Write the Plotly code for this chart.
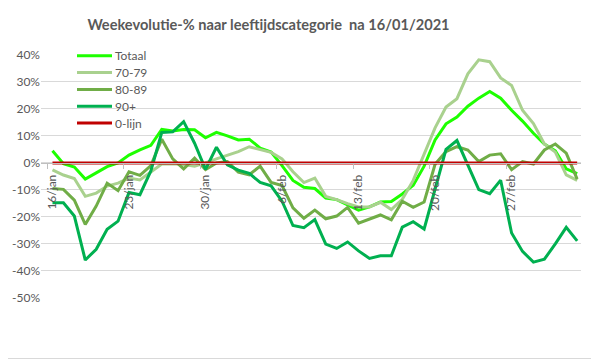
import plotly.graph_objects as go

# ---------------- data ----------------
categories = ([f"{d}/jan" for d in range(16, 32)]
              + [f"{d}/feb" for d in range(1, 29)]
              + [f"{d}/mrt" for d in range(1, 6)])

tick_labels = ["16/jan", "23/jan", "30/jan", "6/feb", "13/feb", "20/feb", "27/feb"]

y_tick_values = [40, 30, 20, 10, 0, -10, -20, -30, -40, -50]
y_tick_labels = ["40%", "30%", "20%", "10%", "0%", "-10%", "-20%", "-30%", "-40%", "-50%"]

totaal = [4.5, -0.3, -1.5, -6.0, -3.7, -1.4, 0.0, 2.9, 4.8, 6.5,
          12.4, 11.8, 12.4, 12.3, 9.3, 11.3, 10.0, 8.5, 8.8, 5.5,
          4.0, -1.0, -6.5, -9.0, -9.5, -13.0, -13.6, -15.4, -17.5, -16.3,
          -14.5, -14.3, -11.5, -8.3, -1.2, 8.5, 14.5, 17.0, 21.0, 24.0,
          26.5, 24.0, 19.5, 15.5, 11.0, 7.0, 4.5, -2.2, -4.0]

leeftijd_70_79 = [-2.6, -4.5, -5.8, -12.4, -11.2, -8.6, -7.5, -5.6, -6.3, -3.2,
                  -0.4, -0.3, -0.6, -1.2, 0.0, 1.5, 2.9, 4.2, 6.0, 5.0,
                  3.9, 1.5, -3.3, -7.3, -5.6, -12.4, -13.6, -15.1, -16.3, -16.3,
                  -14.6, -17.3, -13.5, -6.5, 3.0, 13.0, 20.7, 23.8, 33.0, 38.2,
                  37.5, 31.5, 28.7, 19.5, 14.6, 7.0, 4.0, -4.4, -6.5]

leeftijd_80_89 = [-9.5, -9.8, -13.8, -22.8, -16.0, -7.5, -10.3, -3.3, -4.6, -1.0,
                  8.8, 1.5, -2.2, 1.8, -2.5, 0.0, 0.5, -3.4, -4.4, -1.2,
                  -7.2, -8.4, -16.7, -20.5, -17.5, -20.7, -19.7, -16.5, -22.3, -20.8,
                  -19.3, -21.1, -14.2, -16.5, -14.5, -0.5, 4.2, 6.0, 4.8, 0.5,
                  2.9, 3.4, -2.5, 0.5, -0.4, 4.8, 7.0, 3.6, -6.0]

leeftijd_90_plus = [-14.8, -14.8, -19.7, -36.0, -32.0, -24.6, -21.6, -11.0, -11.8, -3.0,
                    11.3, 11.5, 15.3, 7.3, -2.4, 5.8, -0.7, -2.7, -3.9, -7.2,
                    -8.5, -14.2, -23.2, -24.0, -21.0, -30.1, -31.7, -29.3, -32.6, -35.4,
                    -34.4, -34.4, -23.8, -21.8, -24.5, -9.3, 5.0, 8.3, -1.0, -9.9,
                    -11.4, -6.4, -26.0, -32.8, -36.8, -35.7, -30.0, -23.9, -28.9]

nul_lijn = [0, 0, 0, 0, 0, 0, 0, 0, 0, 0,
            0, 0, 0, 0, 0, 0, 0, 0, 0, 0,
            0, 0, 0, 0, 0, 0, 0, 0, 0, 0,
            0, 0, 0, 0, 0, 0, 0, 0, 0, 0,
            0, 0, 0, 0, 0, 0, 0, 0, 0]

series_names = ["Totaal", "70-79", "80-89", "90+", "0-lijn"]
series_values = [totaal, leeftijd_70_79, leeftijd_80_89, leeftijd_90_plus, nul_lijn]
series_colors = ["#1EFF00", "#A9D18E", "#70AD47", "#00B050", "#C00000"]

# ---------------- layout geometry ----------------
# the page body adds an 8px margin, so the figure is drawn 8px smaller and
# all target pixel positions are shifted by that offset
OFF = 8
W, H = 599 - OFF, 359 - OFF


def px(xp):
    return (xp - OFF) / W


def py(yp):
    return 1 - (yp - OFF) / H


plot_left, plot_right = 41, 581
plot_top, plot_bottom = 55, 297.8
y_min, y_max = -50, 40

x_pos = list(range(len(categories)))
tick_pos = [categories.index(t) for t in tick_labels]
boundary_pos = [p - 0.5 for p in tick_pos]

ydom = [py(plot_bottom), py(plot_top)]
zero_frac = ydom[0] + (0 - y_min) / (y_max - y_min) * (ydom[1] - ydom[0])

FONT = "Lato"
GREY = "#595959"

fig = go.Figure()
for name, vals, col in zip(series_names, series_values, series_colors):
    fig.add_trace(go.Scatter(
        x=x_pos, y=vals, name=name, mode="lines",
        line=dict(color=col, width=3),
        hoverinfo="skip", showlegend=False,
    ))

# legend drawn as shapes + text so that the item spacing matches
legend_y = [55.8, 72.6, 89.4, 106.2, 123.0]
shapes = []
annotations = []
for name, col, yy in zip(series_names, series_colors, legend_y):
    shapes.append(dict(type="line", xref="paper", yref="paper",
                       x0=px(77), x1=px(112), y0=py(yy), y1=py(yy),
                       line=dict(color=col, width=3)))
    annotations.append(dict(text=name, xref="paper", yref="paper",
                            x=px(113), y=py(yy), xanchor="left", yanchor="middle",
                            showarrow=False,
                            font=dict(family=FONT, size=12, color=GREY)))

shapes.append(dict(type="rect", xref="paper", yref="paper",
                   x0=px(-5), x1=px(598.5), y0=py(358.5), y1=py(-5),
                   line=dict(color="#D9D9D9", width=1), fillcolor="rgba(0,0,0,0)",
                   layer="below"))

fig.update_layout(
    width=W, height=H,
    margin=dict(l=0, r=0, t=0, b=0),
    paper_bgcolor="white", plot_bgcolor="white",
    font=dict(family=FONT, size=12, color=GREY),
    title=dict(
        text="<b>Weekevolutie-% naar leeftijdscategorie\u00a0 na 16/01/2021</b>",
        x=px(268.5), xanchor="center", xref="paper",
        y=py(25), yanchor="middle", yref="paper",
        font=dict(family=FONT, size=14.6, color=GREY),
    ),
    showlegend=False,
    xaxis=dict(
        domain=[px(plot_left), px(plot_right)],
        range=[-1.05, 48.35],
        anchor="free", position=zero_frac,
        showgrid=False, zeroline=False,
        showline=True, linecolor="#BFBFBF", linewidth=1,
        tickmode="array", tickvals=tick_pos, ticktext=tick_labels,
        ticks="", tickangle=-90, ticklabelstandoff=6,
        tickfont=dict(family=FONT, size=12, color=GREY),
        minor=dict(tickmode="array", tickvals=boundary_pos, ticks="outside",
                   ticklen=5, tickcolor="#BFBFBF", tickwidth=1, showgrid=False),
        automargin=False, fixedrange=True,
    ),
    yaxis=dict(
        domain=ydom,
        range=[y_min, y_max],
        tickmode="array", tickvals=y_tick_values, ticktext=y_tick_labels,
        showgrid=True, gridcolor="#D9D9D9", gridwidth=1,
        zeroline=False, showline=False, ticks="",
        tickfont=dict(family=FONT, size=12, color=GREY),
        automargin=False, fixedrange=True,
    ),
    shapes=shapes,
    annotations=annotations,
)

fig.write_html("out.html")
